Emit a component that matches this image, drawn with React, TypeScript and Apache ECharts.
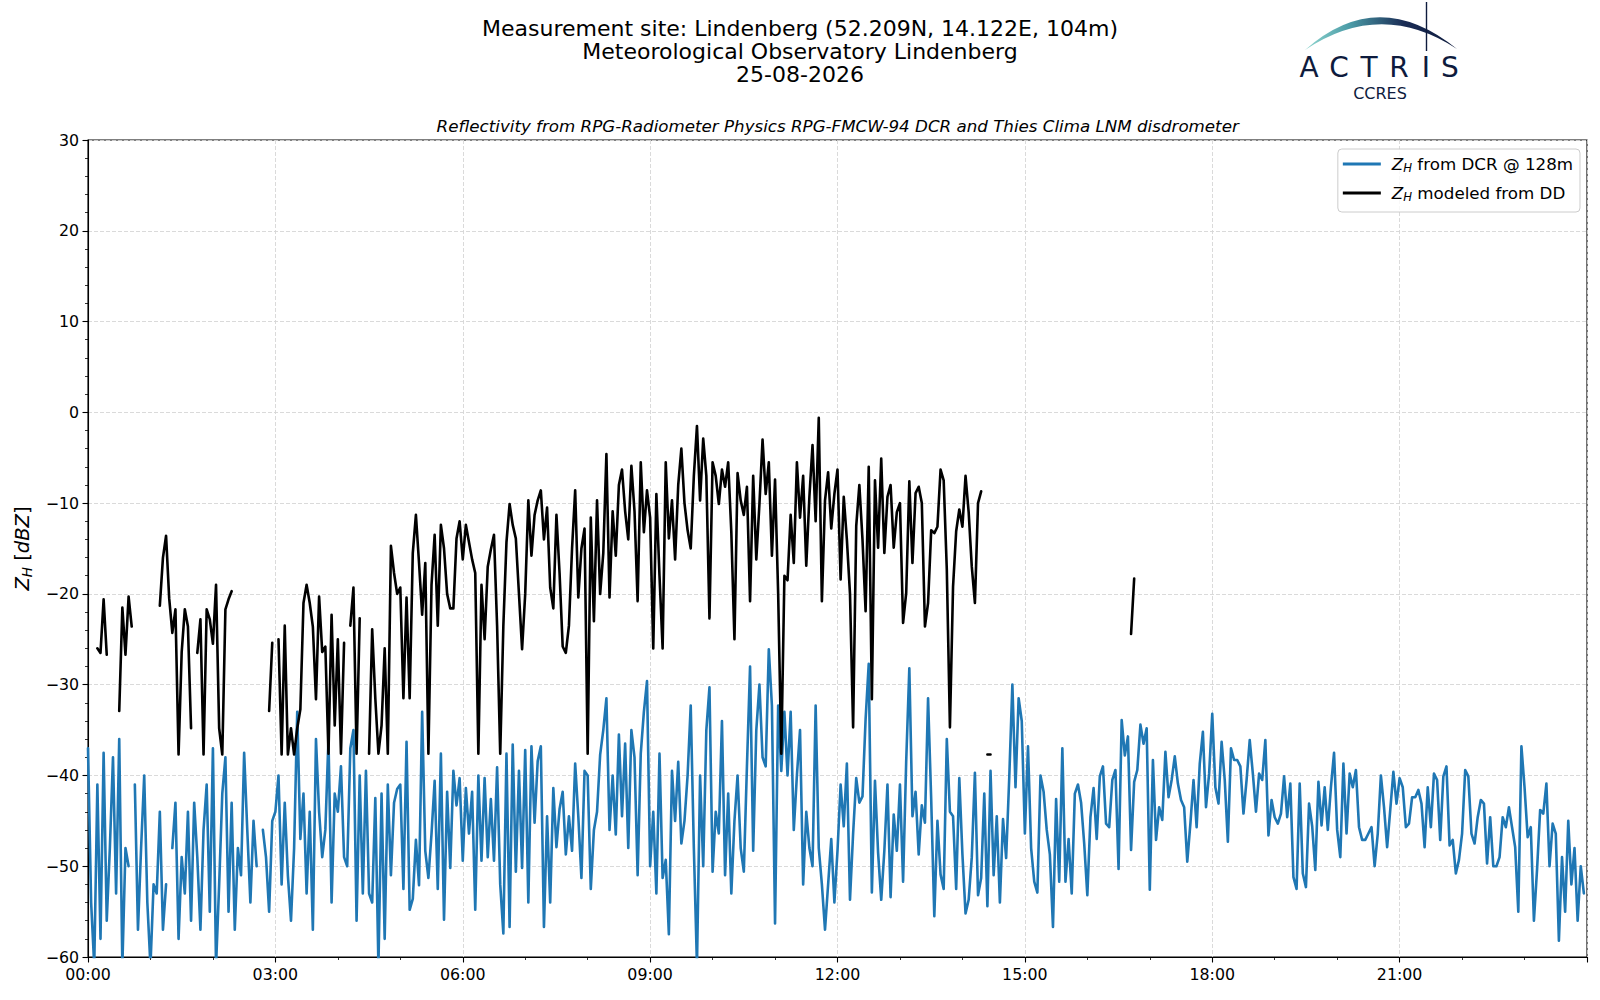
import React, { useEffect, useRef } from 'react';
import * as echarts from 'echarts';

const FONT = 'DejaVu Sans';
const NAVY = '#0e1b3d';

// 3-minute samples, hour 0 starts at 00:00
const STEP_HOURS = 0.05;

const TITLE_LINES = [
  'Measurement site: Lindenberg (52.209N, 14.122E, 104m)',
  'Meteorological Observatory Lindenberg',
  '25-08-2026',
];
const SUBTITLE = 'Reflectivity from RPG-Radiometer Physics RPG-FMCW-94 DCR and Thies Clima LNM disdrometer';
const X_TICK_LABELS = ['00:00', '03:00', '06:00', '09:00', '12:00', '15:00', '18:00', '21:00'];
const SERIES_DCR = 'Z_H from DCR @ 128m';
const SERIES_DD = 'Z_H modeled from DD';

// Z_H from DCR @ 128m (dBZ), 20 samples per hour
const DCR_ZH_00_05 = [
  -37, -54, -61, -41, -58, -37.5, -56, -48, -38, -53, -36, -61, -48, -50, null, -41, -57, -48, -40, -54,
  -61, -52, -53, -44, -57, -52, null, -48, -43, -58, -49, -53, -44, -56, -43, -49, -57, -46, -41, -55,
  -37, -61, -52, -42, -38, -55, -43, -57, -48, -51, -37.5, -46, -54, -45, -50, null, -46, -49, -55, -45,
  -44, -40, -52, -43, -51, -56, -48, -33, -47, -42, -53, -44, -57, -36, -44, -49, -46, -36, -54, -42,
  -44, -39, -49, -50, -37, -35, -56, -40, -53, -39.5, -53, -54, -42.5, -61, -42, -58, -41, -51, -43, -41.5,
  -41, -52.5, -36.3, -54.8, -53.6, -47.1, -52.1, -33, -48.3, -51.3, -46.4, -40.6, -52.5, -37.6, -55.9, -41.8, -50.2, -39.5, -43.3, -40.3,
];
const DCR_ZH_06_11 = [
  -49.4, -41.4, -46.4, -41.8, -54.8, -40, -49.4, -40.3, -49, -42.6, -49.4, -39.1, -52, -57.4, -37.6, -56.7, -36.6, -50.6, -39.5, -50.2,
  -37.2, -54, -36.8, -45.2, -38.4, -36.8, -56.7, -44.5, -54, -41.4, -47.9, -43.7, -41.8, -48.7, -44.5, -48.3, -38.7, -44.5, -51.3, -39.5,
  -40, -52.5, -46, -44, -37.7, -35, -31.5, -46, -40, -46.5, -35.5, -44.5, -36.5, -48, -35, -38, -51, -37.6, -33, -29.6,
  -50, -44, -53, -37.6, -51.3, -49.3, -57.5, -39.5, -45, -38.5, -47.5, -45, -40, -32.3, -48, -61, -40, -50, -35, -30.3,
  -50.6, -44, -46.4, -34, -51, -42, -53, -45, -40, -48, -50.6, -39, -28, -48.3, -35, -30, -38, -39, -26.1, -32.3,
  -56.3, -32.3, -39.5, -33, -40, -33, -46, -40, -35, -52, -44, -48, -50, -32.3, -48, -52, -57, -52, -47, -54,
];
const DCR_ZH_12_17 = [
  -48.3, -41, -45.6, -38.7, -53.7, -46.4, -40.3, -43, -42.3, -33.8, -27.7, -52.9, -40.6, -48.5, -53.7, -48.3, -41, -53.4, -44.3, -48.3,
  -41, -51.7, -38.4, -28.2, -44.5, -41.8, -48.7, -43.3, -45.2, -31.5, -42.6, -55.5, -45, -50.9, -52.5, -36, -44, -44.5, -52.5, -40.3,
  -48.7, -55.2, -53.7, -49, -39.7, -53.2, -51.3, -42, -54.4, -39.5, -51, -44.5, -54, -44.8, -49.1, -40.2, -30, -41.3, -31.5, -34,
  -46.4, -36.8, -48, -51.7, -52.9, -40, -41.8, -46, -48.7, -56.7, -42.6, -51.7, -37, -51.7, -47, -53, -42, -41, -43, -47.5,
  -53.2, -44.6, -41.4, -47, -40.1, -39, -45.3, -45.7, -40.5, -39.4, -50.3, -33.9, -37.8, -35.7, -48.2, -40.7, -39.4, -34.4, -36.5, -34.8,
  -52.6, -38.3, -47.1, -43.5, -44.9, -37.4, -42.4, -40.5, -37.9, -40.9, -42.7, -43.5, -49.5, -45.3, -40.5, -45.7, -38.7, -35.2, -43.5, -39.8,
];
const DCR_ZH_18_23 = [
  -33.2, -41.3, -43.1, -36.3, -40.5, -47.3, -37, -38.3, -38.3, -39, -44.2, -40.5, -36.1, -39.8, -44, -39.8, -40.5, -36.1, -46.6, -42.7,
  -44.6, -45.3, -44.2, -40.1, -44.6, -40.9, -51.2, -52.5, -40.9, -50.8, -52.3, -43.1, -45.6, -50.4, -40.7, -45.5, -41.3, -46, -41.3, -37.5,
  -46, -49, -38.7, -46.4, -39.8, -41.3, -39.4, -45.7, -47.1, -47.1, -46.4, -45.7, -50, -46.4, -40, -43.5, -47.9, -43.8, -39.6, -43.1,
  -40.3, -41.3, -45.7, -45.3, -42.4, -42.4, -41.6, -43.1, -47.9, -41.3, -45.7, -39.8, -40.5, -47.1, -40.1, -39, -47.7, -47.1, -50.8, -49.3,
  -46.4, -39.4, -40.1, -46.4, -47.5, -44.6, -42.7, -43.1, -49.7, -44.6, -50, -50, -49, -44.6, -45.7, -43.5, -45.7, -47.9, -55, -36.8,
  -41.3, -46.8, -45.7, -56, -50.4, -43.8, -44.2, -40.9, -50, -45.3, -46.4, -58.2, -49, -55, -45, -52, -48, -56, -50, -53,
];

// Z_H modeled from disdrometer (dBZ), 20 samples per hour
const DD_ZH_00_04 = [
  null, null, null, -26, -26.5, -20.6, -26.7, null, null, null, -32.9, -21.5, -26.7, -20.3, -23.6, null, null, null, null, null,
  null, null, null, -21.3, -16, -13.6, -20.5, -24.3, -21.7, -37.7, -26.4, -21.7, -23.6, -34.8, null, -26.5, -22.8, -37.7, -21.7, -22.8,
  -25.5, -19, -34.8, -37.7, -21.7, -20.6, -19.7, null, null, null, null, null, null, null, null, null, null, null, -32.9, -25.4,
  null, -25, -37.7, -23.5, -37.7, -34.8, -37.7, -34.8, -32.7, -21, -19, -21, -23.6, -31.6, -20.3, -26.4, -25.8, -37.6, -22.3, -34.5,
  -25, -37.6, -25.4, null, -23.5, -19.3, -37.6, -22.7, null, null, -37.6, -23.9, -31.5, -37.6, -34.5, -26, -37.6, -14.7, -17.7, -20,
];
const DD_ZH_05_09 = [
  -19.3, -31.5, -20.4, -31.5, -15.5, -11.3, -16.6, -22.3, -16.6, -37.6, -19, -13.5, -23.5, -12.4, -15, -20, -21.6, -21.6, -13.9, -12,
  -16.2, -12.4, -14.3, -16.2, -17.7, -37.6, -19, -25, -17, -15.1, -13.5, -23.5, -37.6, -23.5, -14.3, -10.1, -12.4, -13.9, -20, -26.1,
  -20, -9.7, -15.8, -11.3, -9.7, -8.6, -14, -10.5, -19.3, -21.6, -11.3, -17.7, -25.8, -26.5, -23.5, -15, -8.6, -20.4, -15, -12.8,
  -37.6, -11.6, -23, -9.7, -20, -15.5, -4.6, -20.4, -10.9, -15.8, -8, -6.3, -10.9, -14, -5.9, -10.9, -20.8, -5.5, -13.2, -8.6,
  -11.6, -26, -9, -18, -26, -5.5, -13.9, -9.7, -16.2, -8, -4, -10, -13, -15, -7, -1.5, -9.7, -2.9, -7, -22.7,
];
const DD_ZH_10_14 = [
  -5.5, -7, -10.1, -6.3, -8.2, -5.5, -13.2, -25, -6.7, -9.7, -11.3, -8.2, -20.8, -7, -16.2, -10.1, -3, -9, -5.5, -15.8,
  -7.4, -20, -37.6, -18, -18.5, -11.3, -16.6, -5.5, -11.6, -7, -16.9, -9.3, -3.6, -12, -0.6, -20.8, -9.7, -6.6, -12.8, -9,
  -6.3, -18.4, -9.3, -14, -20, -34.7, -12.5, -8, -14, -21.9, -6, -31.6, -7.5, -14.9, -5.1, -15.5, -9.3, -8, -14.9, -11,
  -10, -23.2, -19.9, -7.6, -16.6, -8.9, -8.2, -10, -23.6, -21, -13, -13.3, -12.6, -6.3, -7.5, -17.3, -34.7, -19.2, -13.1, -10.7,
  -12.6, -7, -11, -17, -21, -10, -8.7, null, -37.7, -37.7, null, null, null, null, null, null, null, null, null, null,
];
const DD_ZH_LATE_START_HOUR = 16.7;
const DD_ZH_LATE = [-24.4, -18.3];

const toPairs = (values: (number | null)[], startHour = 0) =>
  values.map((v, i) => [Math.round((startHour + i * STEP_HOURS) * 1000) / 1000, v]);

const fmtY = (v: number) => (v < 0 ? '\u2212' + Math.abs(v) : String(v));

const arcPath = 'M 1305 50 Q 1378 -15 1457 49 Q 1381 -1 1305 50 Z';
try {
  echarts.graphic.registerShape('actrisArc', echarts.graphic.extendPath(arcPath, {}));
} catch (e) {
  // already registered
}

export default function App() {
  const ref = useRef<HTMLDivElement>(null);

  useEffect(() => {
    if (!ref.current) return;
    const chart = echarts.init(ref.current, null, { renderer: 'svg' });

    const dcrData = toPairs([...DCR_ZH_00_05, ...DCR_ZH_06_11, ...DCR_ZH_12_17, ...DCR_ZH_18_23]);
    const ddData = [
      ...toPairs([...DD_ZH_00_04, ...DD_ZH_05_09, ...DD_ZH_10_14]),
      ...toPairs(DD_ZH_LATE, DD_ZH_LATE_START_HOUR),
    ];

    const legendRich = {
      sp: { width: 6 },
      z: { fontFamily: FONT, fontSize: 16.7, fontStyle: 'italic', color: '#000', lineHeight: 20 },
      s: { fontFamily: FONT, fontSize: 11.7, fontStyle: 'italic', color: '#000', lineHeight: 11, verticalAlign: 'bottom' },
      t: { fontFamily: FONT, fontSize: 16.7, color: '#000', lineHeight: 20 },
    };
    const yNameRich = {
      z: { fontFamily: FONT, fontSize: 19.5, fontStyle: 'italic', color: '#000', lineHeight: 23 },
      s: { fontFamily: FONT, fontSize: 13.6, fontStyle: 'italic', color: '#000', lineHeight: 13, verticalAlign: 'bottom' },
      t: { fontFamily: FONT, fontSize: 19.5, color: '#000', lineHeight: 23 },
    };

    chart.setOption({
      animation: false,
      backgroundColor: '#ffffff',
      title: {
        text: TITLE_LINES.join('\n'),
        left: 'center',
        top: 17,
        padding: 0,
        textStyle: { fontFamily: FONT, fontSize: 22, fontWeight: 'normal', color: '#000', lineHeight: 23 },
      },
      grid: {
        left: 88,
        right: 13,
        top: 140,
        bottom: 43,
        show: true,
        borderColor: '#000',
        borderWidth: 1.1,
        backgroundColor: 'transparent',
        containLabel: false,
        outerBoundsMode: 'none',
      },
      legend: {
        orient: 'vertical',
        right: 20,
        top: 149,
        icon: 'rect',
        itemWidth: 38,
        itemHeight: 2.8,
        itemGap: 9,
        padding: [5, 7, 9, 5],
        backgroundColor: 'rgba(255,255,255,0.8)',
        borderColor: '#cccccc',
        borderWidth: 1,
        borderRadius: 4,
        data: [SERIES_DCR, SERIES_DD],
        formatter: (name: string) => '{sp|}{z|Z}{s|H}{t| ' + name.replace('Z_H ', '') + '}',
        textStyle: { fontFamily: FONT, fontSize: 16.7, color: '#000', lineHeight: 20, rich: legendRich },
      },
      xAxis: {
        type: 'value',
        min: 0,
        max: 24,
        interval: 3,
        axisLine: { show: true, onZero: false, lineStyle: { color: '#000', width: 1.1 } },
        axisTick: { show: true, length: 5.5, lineStyle: { color: '#000', width: 1.1 } },
        minorTick: { show: true, splitNumber: 3, length: 3, lineStyle: { color: '#000', width: 0.8 } },
        axisLabel: {
          formatter: (v: number) => X_TICK_LABELS[Math.round(v / 3)] ?? '',
          margin: 9,
          color: '#000',
          fontFamily: FONT,
          fontSize: 15.8,
          showMaxLabel: false,
        },
        splitLine: { show: true, lineStyle: { color: '#d6d6d6', width: 0.9, type: [4, 2] } },
        minorSplitLine: { show: false },
      },
      yAxis: {
        type: 'value',
        min: -60,
        max: 30,
        interval: 10,
        name: '{z|Z}{s|H}{t| [}{z|dBZ}{t|]}',
        nameLocation: 'middle',
        nameRotate: 90,
        nameGap: 54,
        nameMoveOverlap: false,
        nameTextStyle: { fontFamily: FONT, fontSize: 19.5, color: '#000', lineHeight: 23, rich: yNameRich },
        axisLine: { show: true, onZero: false, lineStyle: { color: '#000', width: 1.1 } },
        axisTick: { show: true, length: 5.5, lineStyle: { color: '#000', width: 1.1 } },
        minorTick: { show: true, splitNumber: 5, length: 3, lineStyle: { color: '#000', width: 0.8 } },
        axisLabel: { formatter: fmtY, margin: 9, color: '#000', fontFamily: FONT, fontSize: 15.8 },
        splitLine: { show: true, lineStyle: { color: '#d6d6d6', width: 0.9, type: [4, 2] } },
        minorSplitLine: { show: false },
      },
      series: [
        {
          name: SERIES_DCR,
          type: 'line',
          data: dcrData,
          color: '#1f77b4',
          showSymbol: false,
          symbol: 'none',
          connectNulls: false,
          clip: true,
          lineStyle: { color: '#1f77b4', width: 2.6, join: 'round', cap: 'round' },
          emphasis: { disabled: true },
        },
        {
          name: SERIES_DD,
          type: 'line',
          data: ddData,
          color: '#000000',
          showSymbol: false,
          symbol: 'none',
          connectNulls: false,
          clip: true,
          lineStyle: { color: '#000000', width: 2.6, join: 'round', cap: 'round' },
          emphasis: { disabled: true },
        },
      ],
      graphic: [
        {
          type: 'text',
          x: 837.7,
          y: 126,
          style: {
            text: SUBTITLE,
            fontFamily: FONT,
            fontSize: 16.7,
            fontStyle: 'italic',
            fill: '#000',
            align: 'center',
            verticalAlign: 'middle',
          },
        },
        {
          type: 'actrisArc',
          x: 0,
          y: 0,
          style: {
            fill: new echarts.graphic.LinearGradient(0, 0, 1, 0, [
              { offset: 0, color: '#8fd6cf' },
              { offset: 0.3, color: '#4a9aa6' },
              { offset: 0.65, color: '#1a2c55' },
              { offset: 1, color: NAVY },
            ]),
            stroke: 'none',
          },
        },
        {
          type: 'line',
          shape: { x1: 1426.5, y1: 2, x2: 1426.5, y2: 51 },
          style: { stroke: NAVY, lineWidth: 1.4 },
        },
        {
          type: 'text',
          x: 1294,
          y: 67.5,
          style: {
            text: '{a|A}{a|C}{a|T}{a|R}{b|I}{b|S}',
            verticalAlign: 'middle',
            align: 'left',
            rich: {
              a: { width: 30, align: 'center', fontFamily: FONT, fontSize: 28, fill: NAVY },
              b: { width: 24, align: 'center', fontFamily: FONT, fontSize: 28, fill: NAVY },
            },
          },
        },
        {
          type: 'text',
          x: 1380,
          y: 93,
          style: {
            text: 'CCRES',
            fontFamily: FONT,
            fontSize: 16,
            fill: NAVY,
            align: 'center',
            verticalAlign: 'middle',
          },
        },
      ],
    });

    return () => {
      chart.dispose();
    };
  }, []);

  return (
    <div
      ref={ref}
      style={{ position: 'fixed', left: 0, top: 0, width: 1600, height: 1000, background: '#ffffff' }}
    />
  );
}
